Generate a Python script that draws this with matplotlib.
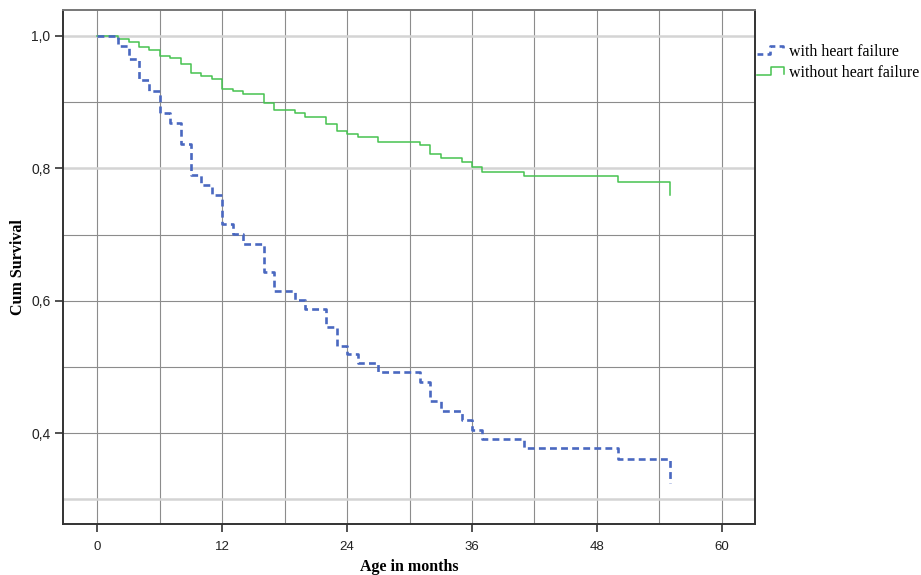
import matplotlib
matplotlib.use("Agg")
import matplotlib.pyplot as plt
from matplotlib.lines import Line2D

# Kaplan-Meier step data
hf_months = [0, 2, 3, 4, 5, 6, 7, 8, 9, 10, 11, 12, 13, 14, 16, 17, 19, 20,
             22, 23, 24, 25, 27, 31, 32, 33, 35, 36, 37, 41, 50, 55]
hf_surv = [1.0, 0.984, 0.965, 0.933, 0.916, 0.884, 0.868, 0.837, 0.790, 0.775,
           0.760, 0.716, 0.701, 0.686, 0.643, 0.615, 0.601, 0.587, 0.560, 0.532,
           0.520, 0.506, 0.492, 0.477, 0.448, 0.434, 0.420, 0.405, 0.392, 0.378,
           0.361, 0.325]

nohf_months = [0, 2, 3, 4, 5, 6, 7, 8, 9, 10, 11, 12, 13, 14, 16, 17, 19, 20,
               22, 23, 24, 25, 27, 31, 32, 33, 35, 36, 37, 41, 50, 55]
nohf_surv = [1.0, 0.995, 0.991, 0.983, 0.978, 0.970, 0.966, 0.957, 0.944, 0.940,
             0.935, 0.920, 0.917, 0.912, 0.898, 0.888, 0.883, 0.878, 0.867, 0.857,
             0.852, 0.847, 0.840, 0.835, 0.822, 0.815, 0.809, 0.802, 0.795, 0.788,
             0.779, 0.760]

series_labels = ["with heart failure", "without heart failure"]
x_ticks = [0, 12, 24, 36, 48, 60]
y_ticks = [0.4, 0.6, 0.8, 1.0]
y_tick_labels = ["0,4", "0,6", "0,8", "1,0"]

BLUE = "#4a68c0"
GREEN = "#46c250"
SERIF = ["Liberation Serif", "DejaVu Serif"]
TICKFONT = ["Liberation Sans Narrow", "Liberation Sans"]

fig = plt.figure(figsize=(9.21, 5.75), dpi=100)
ax = fig.add_axes([0.0684, 0.0887, 0.7514, 0.8939])

ax.set_xlim(-3.3, 63.2)
ax.set_ylim(0.263, 1.039)

# grid
for m in range(0, 61, 6):
    ax.axvline(m, color="#8c8c8c", lw=0.8, zorder=0)
for v in [0.9, 0.7, 0.6, 0.5, 0.4]:
    ax.axhline(v, color="#8c8c8c", lw=0.8, zorder=0)
for v in [1.0, 0.8, 0.3]:
    ax.axhline(v, color="#d4d4d4", lw=1.8, zorder=0)

ax.step(nohf_months, nohf_surv, where="post", color=GREEN, lw=1.1, zorder=3)
ax.step(hf_months, hf_surv, where="post", color=BLUE, lw=1.9,
        dashes=(2.6, 1.6), zorder=4)

ax.set_xticks(x_ticks)
ax.set_xticklabels([str(t) for t in x_ticks], fontfamily=TICKFONT, fontsize=9.5)
ax.set_yticks(y_ticks)
ax.set_yticklabels(y_tick_labels, fontfamily=TICKFONT, fontsize=10)
ax.tick_params(direction="out", length=6, width=1.2, color="#333333",
               labelcolor="#222222", pad=3)
ax.tick_params(axis="x", pad=6)

for side in ["left", "bottom", "right"]:
    ax.spines[side].set_color("#333333")
    ax.spines[side].set_linewidth(1.4)
ax.spines["top"].set_color("#777777")
ax.spines["top"].set_linewidth(1.4)

ax.set_xlabel("Age in months", fontfamily=SERIF, fontweight="bold", fontsize=11.5)
ax.xaxis.set_label_coords(0.5, -0.084)
ax.xaxis.label.set_va("center")
ax.set_ylabel("Cum Survival", fontfamily=SERIF, fontweight="bold", fontsize=11.5)
ax.yaxis.set_label_coords(-0.065, 0.5)
ax.yaxis.label.set_va("center")

# legend drawn as step glyphs outside the axes (figure pixel fractions)
W, H = 921.0, 575.0


def fx(px):
    return px / W


def fy(py):
    return 1 - py / H


glyph_blue = Line2D([fx(757), fx(770), fx(770), fx(783), fx(783)],
                    [fy(54), fy(54), fy(46), fy(46), fy(52)],
                    color=BLUE, lw=1.9, dashes=(2.2, 1.6), transform=fig.transFigure)
glyph_green = Line2D([fx(757), fx(771), fx(771), fx(784), fx(784)],
                     [fy(75), fy(75), fy(67), fy(67), fy(74)],
                     color=GREEN, lw=1.1, transform=fig.transFigure)
fig.add_artist(glyph_blue)
fig.add_artist(glyph_green)
fig.text(fx(789), fy(52), series_labels[0], fontfamily=SERIF, fontsize=11.5,
         va="center", ha="left")
fig.text(fx(789), fy(73), series_labels[1], fontfamily=SERIF, fontsize=11.5,
         va="center", ha="left")

fig.savefig("out.png", dpi=100)
